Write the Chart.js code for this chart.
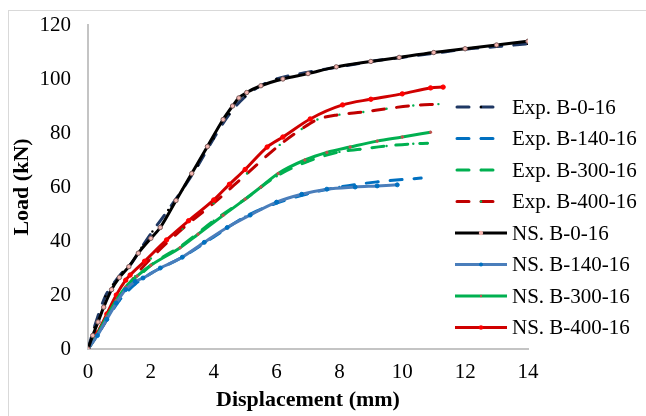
<!DOCTYPE html>
<html>
<head>
<meta charset="utf-8">
<script src="https://cdn.jsdelivr.net/npm/chart.js"></script>
<style>
  html, body { margin: 0; padding: 0; background: #fff; overflow: hidden; }
  #wrap { position: relative; width: 646px; height: 416px; overflow: hidden; }
  #frame { position: absolute; left: 8px; top: 10px; width: 700px; height: 500px; border: 1px solid #d9d9d9; }
  canvas { position: absolute; left: 0; top: 0; }
</style>
</head>
<body>
<div id="wrap">
  <div id="frame"></div>
  <canvas id="myChart" width="646" height="416"></canvas>
</div>
<script>
// axis ticks
const xTicks = [0, 2, 4, 6, 8, 10, 12, 14];
const yTicks = [0, 20, 40, 60, 80, 100, 120];

// Exp. B-0-16
const exp0X = [0, 0.2, 0.55, 0.8, 1.1, 1.4, 1.7, 2.05, 2.55, 3.0, 3.5, 4.0, 4.5, 5.0, 5.5, 6.0, 7.0, 8.0, 9.0, 10.0, 11.0, 12.0, 13.0, 14.0];
const exp0Y = [0, 8, 19.5, 24, 28.5, 32, 37.5, 43.5, 51.5, 59, 68, 78, 87, 93.5, 97.5, 100, 102.5, 104.5, 106.5, 108, 109.5, 111, 112, 113];
// Exp. B-140-16
const exp140X = [0, 0.5, 1.0, 1.5, 2.0, 3.0, 4.0, 5.0, 6.0, 7.0, 8.0, 9.2, 10.6];
const exp140Y = [0, 9, 18, 24, 28, 34, 41.5, 49, 54, 57.5, 60, 61.9, 63.3];
// Exp. B-300-16
const exp300X = [0, 0.5, 1.0, 1.5, 2.0, 3.0, 4.0, 5.0, 6.0, 7.0, 8.0, 8.66, 9.5, 10.35, 10.8];
const exp300Y = [0, 10, 19, 25.5, 31, 38.5, 47.5, 55.5, 64, 69.5, 73, 74, 75.2, 76, 76.2];
// Exp. B-400-16
const exp400X = [0, 0.5, 1.0, 1.5, 2.0, 3.0, 4.0, 5.06, 6.1, 6.8, 7.3, 8.0, 8.76, 9.5, 10.35, 11.15];
const exp400Y = [0, 9, 19, 27, 33.5, 44.5, 54, 65, 75.6, 81.5, 85, 86.8, 87.8, 89, 90.2, 90.7];

// NS. B-0-16
const ns0X = [0, 0.15, 0.32, 0.5, 0.75, 1.0, 1.3, 1.6, 2.0, 2.3, 2.8, 3.3, 3.8, 4.3, 4.6, 4.8, 5.05, 5.5, 6.2, 7.0, 7.9, 9.0, 9.9, 11.0, 12.0, 13.0, 14.0];
const ns0Y = [0, 5, 10, 15.5, 22, 26.5, 30.5, 35.5, 41, 45, 55, 65, 75, 85, 90, 93, 95, 97.5, 100, 102, 104.5, 106.5, 108, 109.8, 111.2, 112.6, 114];
// NS. B-140-16
const ns140X = [0, 0.3, 0.6, 0.9, 1.2, 1.5, 1.75, 2.3, 3.0, 3.7, 4.43, 5.16, 6.0, 6.8, 7.6, 8.5, 9.2, 9.84];
const ns140Y = [0, 5, 11, 17, 22, 25, 26.3, 30, 34, 39.5, 45, 49.6, 54.4, 57.3, 59.2, 60, 60.4, 60.8];
// NS. B-300-16
const ns300X = [0, 0.3, 0.6, 0.9, 1.2, 1.56, 2.0, 2.93, 3.5, 4.3, 5.0, 5.5, 6.05, 6.9, 7.6, 8.34, 9.2, 10.0, 10.9];
const ns300Y = [0, 5.5, 12, 18, 23, 27, 31, 37.5, 42.5, 49.5, 55.5, 60, 65, 70, 72.8, 74.8, 77, 78.5, 80.3];
// NS. B-400-16
const ns400X = [0, 0.3, 0.6, 0.9, 1.2, 1.34, 1.8, 2.5, 3.2, 4.0, 4.5, 5.0, 5.7, 6.2, 7.07, 8.1, 9.0, 10.0, 10.9, 11.3];
const ns400Y = [0, 6, 13, 20, 25.5, 27.4, 32.5, 40.4, 47.5, 55.2, 61, 66.5, 74.8, 78.5, 85.2, 90.4, 92.5, 94.5, 96.7, 97];

function pts(xs, ys) {
  return xs.map((x, i) => ({ x: x, y: ys[i] }));
}

function expSet(label, xs, ys, color, dot) {
  return {
    label: label, data: pts(xs, ys), order: 1,
    borderColor: color, borderWidth: 3, borderDash: [12, 12], borderCapStyle: 'round',
    pointRadius: 1.2, pointBackgroundColor: dot, pointBorderColor: dot, pointBorderWidth: 0,
    showLine: true, cubicInterpolationMode: 'monotone'
  };
}
function nsSet(label, xs, ys, color, dot, r, dotBorder) {
  return {
    label: label, data: pts(xs, ys), order: 0,
    borderColor: color, borderWidth: 3,
    pointRadius: r, pointBackgroundColor: dot, pointBorderColor: dotBorder || dot, pointBorderWidth: 1,
    showLine: true, cubicInterpolationMode: 'monotone'
  };
}

const datasets = [
  expSet('Exp. B-0-16', exp0X, exp0Y, '#1F3864', '#000000'),
  expSet('Exp. B-140-16', exp140X, exp140Y, '#0070C0', '#0070C0'),
  expSet('Exp. B-300-16', exp300X, exp300Y, '#00B050', '#00B050'),
  expSet('Exp. B-400-16', exp400X, exp400Y, '#C00000', '#00B050'),
  nsSet('NS. B-0-16', ns0X, ns0Y, '#000000', '#F4B6B0', 2.2, '#7a5a5a'),
  nsSet('NS. B-140-16', ns140X, ns140Y, '#4A7EBB', '#0070C0', 2),
  nsSet('NS. B-300-16', ns300X, ns300Y, '#00B050', '#C0504D', 1.2),
  nsSet('NS. B-400-16', ns400X, ns400Y, '#D00000', '#FF0000', 2.2)
];

const sideLegend = {
  id: 'sideLegend',
  afterDraw(chart) {
    const ctx = chart.ctx;
    ctx.save();
    ctx.font = '21px "Liberation Serif"';
    ctx.textBaseline = 'middle';
    chart.data.datasets.forEach((ds, i) => {
      const y = 107 + i * 31.5;
      ctx.strokeStyle = ds.borderColor;
      ctx.lineWidth = ds.borderWidth;
      ctx.lineCap = ds.borderDash ? 'round' : 'butt';
      ctx.setLineDash(ds.borderDash || []);
      ctx.beginPath();
      ctx.moveTo(ds.borderDash ? 457 : 455, y);
      ctx.lineTo(ds.borderDash ? 495 : 507, y);
      ctx.stroke();
      ctx.setLineDash([]);
      if (ds.pointRadius) {
        ctx.fillStyle = ds.pointBackgroundColor;
        ctx.beginPath();
        ctx.arc(481, y, ds.pointRadius, 0, Math.PI * 2);
        ctx.fill();
      }
      ctx.fillStyle = '#000';
      ctx.fillText(ds.label, 512, y + 1);
    });
    ctx.restore();
  }
};

new Chart('myChart', {
  type: 'scatter',
  data: { datasets: datasets },
  plugins: [sideLegend],
  options: {
    responsive: false,
    animation: false,
    devicePixelRatio: 1,
    layout: { padding: { left: 0, right: 118, top: 25, bottom: 0 } },
    plugins: { legend: { display: false }, tooltip: { enabled: false } },
    scales: {
      x: {
        type: 'linear', min: 0, max: 14,
        afterFit(scale) { scale.height = 67; },
        afterBuildTicks(scale) { scale.ticks = xTicks.map(v => ({ value: v })); },
        grid: { display: false, drawTicks: false },
        border: { display: true, color: '#c4c4c4', width: 2 },
        ticks: { color: '#000', padding: 11, font: { family: 'Liberation Serif', size: 21 } },
        title: { display: true, text: 'Displacement (mm)', color: '#000', padding: { top: 0, bottom: 2 },
                 font: { family: 'Liberation Serif', size: 22, weight: 'bold' } }
      },
      y: {
        type: 'linear', min: 0, max: 120,
        afterFit(scale) { scale.width = 88; scale.paddingTop = 0; scale.paddingBottom = 0; },
        afterBuildTicks(scale) { scale.ticks = yTicks.map(v => ({ value: v })); },
        grid: { display: false, drawTicks: false },
        border: { display: true, color: '#c4c4c4', width: 2 },
        ticks: { color: '#000', padding: 17, font: { family: 'Liberation Serif', size: 21 } },
        title: { display: true, text: 'Load (kN)', color: '#000', padding: { top: 9, bottom: 0 },
                 font: { family: 'Liberation Serif', size: 22, weight: 'bold' } }
      }
    }
  }
});
</script>
</body>
</html>
